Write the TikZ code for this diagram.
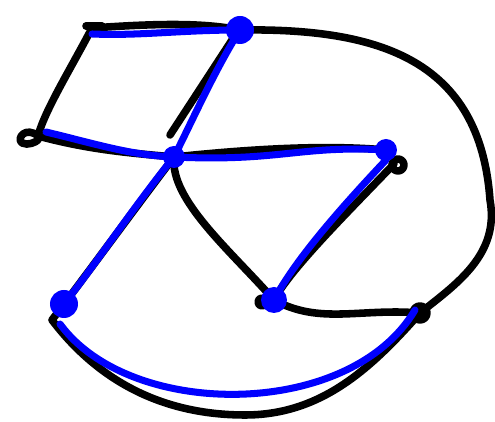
\documentclass[tikz,border=0pt]{standalone}
\usepackage{tikz}

\begin{document}
\begin{tikzpicture}[x=0.02cm,y=-0.02cm,line cap=round,line join=round,
  edge/.style={draw=black,line width=4.3pt},
  hl/.style={draw=blue,line width=4pt},
  blob/.style={fill=blue}]
\useasboundingbox (0,0) rectangle (495,422);
\coordinate (a) at (92,28);
\coordinate (b) at (240,30);
\coordinate (c) at (38,136);
\coordinate (d) at (174,157);
\coordinate (e) at (386,150);
\coordinate (f) at (64,304);
\coordinate (g) at (274,300);
\coordinate (h) at (420,313);
\coordinate (r) at (490,200);
\coordinate (l) at (245,415);
% black graph
\draw[edge] ([shift={(-6,-2)}]a) -- ([shift={(10,-2)}]a);
\draw[edge] (a) .. controls (150,24) and (200,22) .. (b);
\draw[edge] (a) .. controls (70,70) and (45,110) .. (c);
\draw[edge] (c) .. controls (26,126) and (16,138) .. (22,143)
   .. controls (28,146) and (36,142) .. (38,140);
\draw[edge] (c) .. controls (90,150) and (130,153) .. (d);
\draw[edge] ([shift={(-8,10)}]b) -- ([shift={(-4,-22)}]d);
\draw[edge] (d) .. controls (260,148) and (330,145) .. (e);
\draw[edge] ([shift={(12,15)}]e) circle (6);
\draw[edge] (d) .. controls (170,200) and (230,250) .. (g);
\draw[edge] ([shift={(8,14)}]e) .. controls (340,220) and (290,270) .. (g);
\draw[edge] ([shift={(-12,2)}]g) circle (4);
\draw[edge] (g) .. controls (320,325) and (360,308) .. (h);
\draw[edge] (h) circle (7);
\draw[edge] (b) .. controls (380,28) and (480,60) .. (r)
   .. controls (500,255) and (455,285) .. (h);
\draw[edge] (d) .. controls (130,215) and (90,270) .. ([shift={(-12,16)}]f)
   .. controls (90,370) and (150,415) .. (l)
   .. controls (320,415) and (370,370) .. (h);
% blue highlight
\draw[hl] ([shift={(0,6)}]a) .. controls (140,36) and (180,30) .. (b);
\draw[hl] (b) .. controls (215,70) and (195,115) .. (d);
\draw[hl] ([shift={(8,-4)}]c) .. controls (100,145) and (130,155) .. (d);
\draw[hl] (d) .. controls (280,162) and (300,145) .. (e);
\draw[hl] (d) .. controls (135,205) and (95,265) .. (f);
\draw[hl] ([shift={(0,10)}]e) .. controls (320,230) and (290,270) .. (g);
\draw[hl] ([shift={(-4,20)}]f) .. controls (130,420) and (350,420) .. ([shift={(-5,-3)}]h);
\fill[blob] (b) circle (14);
\fill[blob] (d) circle (11);
\fill[blob] (e) circle (11);
\fill[blob] (f) circle (14);
\fill[blob] (g) circle (13);
\end{tikzpicture}
\end{document}
